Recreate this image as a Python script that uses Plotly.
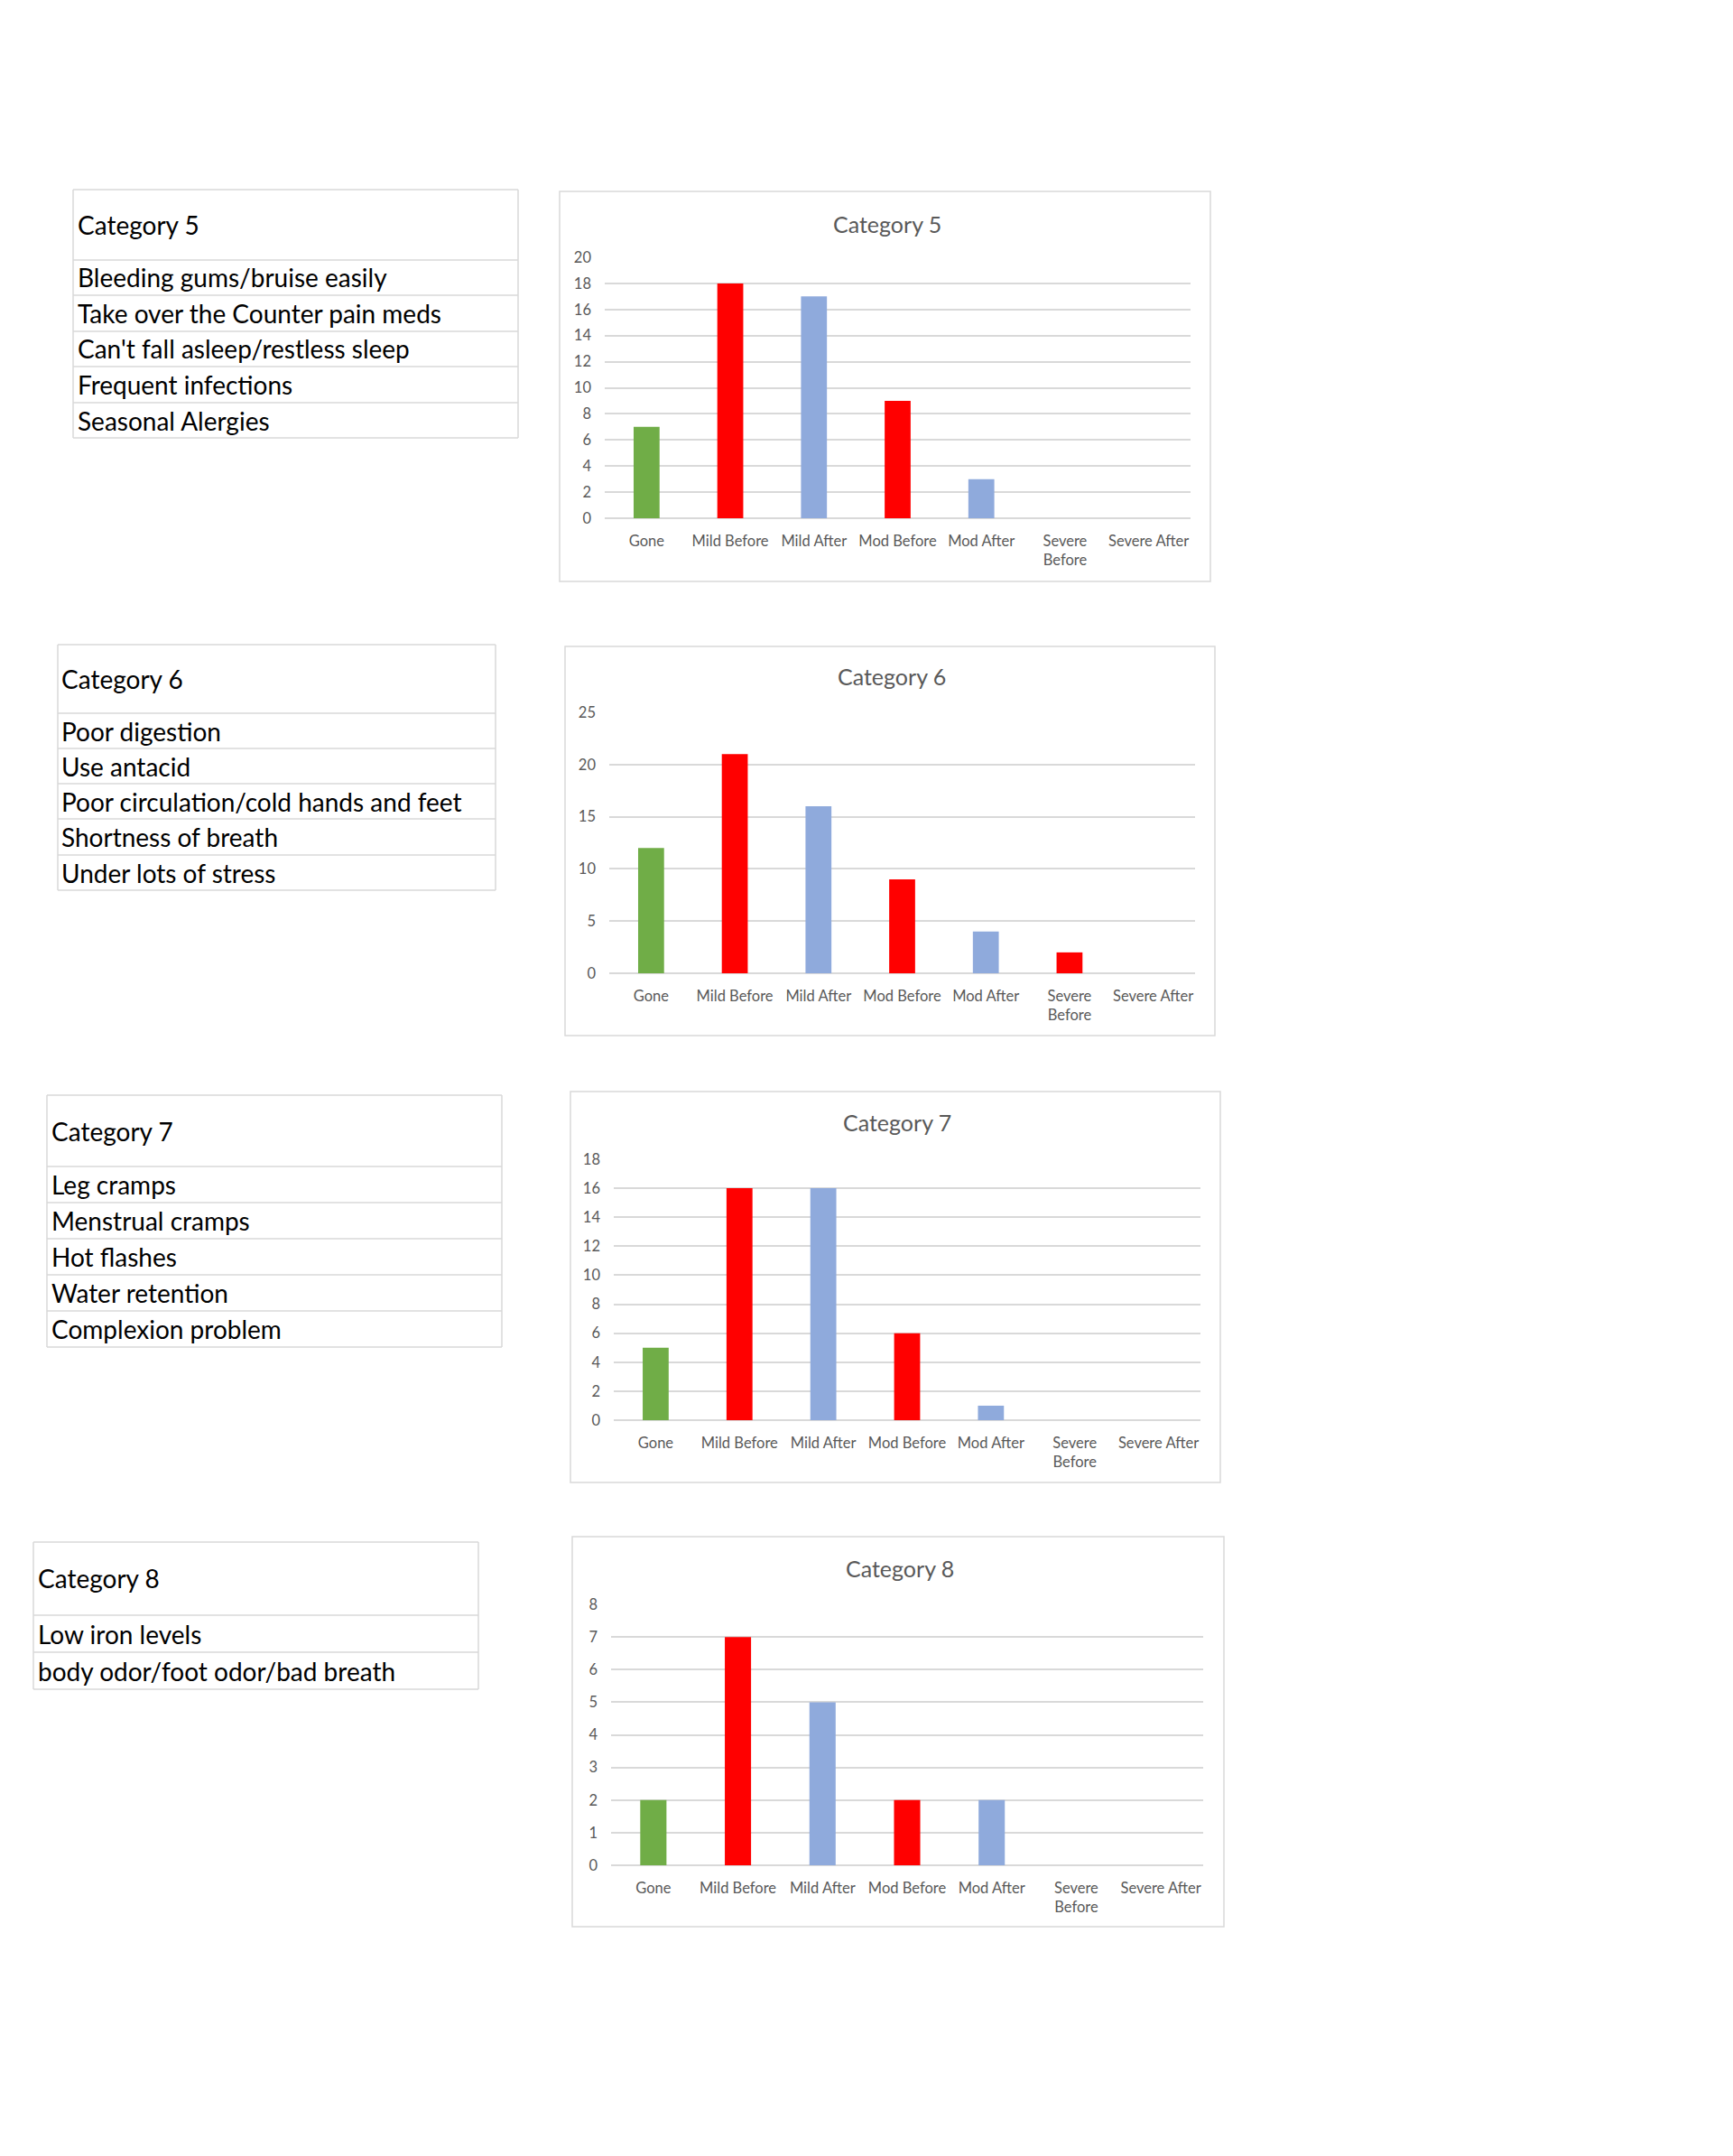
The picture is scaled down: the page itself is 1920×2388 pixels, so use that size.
import plotly.graph_objects as go

W, H = 1920, 2388

# ---------------- data ----------------
categories = ["Gone", "Mild Before", "Mild After", "Mod Before", "Mod After", "Severe Before", "Severe After"]
tick_labels = ["Gone", "Mild Before", "Mild After", "Mod Before", "Mod After", "Severe<br>Before", "Severe After"]

cat5_values = [7, 18, 17, 9, 3, 0, 0]
cat6_values = [12, 21, 16, 9, 4, 2, 0]
cat7_values = [5, 16, 16, 6, 1, 0, 0]
cat8_values = [2, 7, 5, 2, 2, 0, 0]

chart_titles = ["Category 5", "Category 6", "Category 7", "Category 8"]
y_max = [20, 25, 18, 8]
y_step = [2, 5, 2, 1]

cat5_symptoms = ["Bleeding gums/bruise easily", "Take over the Counter pain meds",
                 "Can't fall asleep/restless sleep", "Frequent infections", "Seasonal Alergies"]
cat6_symptoms = ["Poor digestion", "Use antacid", "Poor circulation/cold hands and feet",
                 "Shortness of breath", "Under lots of stress"]
cat7_symptoms = ["Leg cramps", "Menstrual cramps", "Hot flashes", "Water retention", "Complexion problem"]
cat8_symptoms = ["Low iron levels", "body odor/foot odor/bad breath"]

all_values = [cat5_values, cat6_values, cat7_values, cat8_values]
all_symptoms = [cat5_symptoms, cat6_symptoms, cat7_symptoms, cat8_symptoms]

# ---------------- style / layout ----------------
GREEN, RED, BLUE = "#70AD47", "#FF0000", "#8FAADC"
def bar_color(cat):
    if cat == "Gone":
        return GREEN
    return RED if cat.endswith("Before") else BLUE

GRID = "#D9D9D9"
TXT = "#595959"
FONT = "Lato"

chart_geom = [
    dict(box=(620, 212, 1341, 644), plot=(670, 285, 1319, 574), title_y=248),
    dict(box=(626, 716, 1346, 1147), plot=(675, 789, 1324, 1078), title_y=749),
    dict(box=(632, 1209, 1352, 1642), plot=(680, 1284, 1330, 1573), title_y=1243),
    dict(box=(634, 1702, 1356, 2134), plot=(677, 1777, 1333, 2066), title_y=1737),
]
table_geom = [
    dict(x0=81, x1=574, lines=[210, 288, 327, 367, 406, 446, 485], text_x=84),
    dict(x0=64, x1=549, lines=[714, 790, 829, 868, 907, 947, 986], text_x=66),
    dict(x0=52, x1=556, lines=[1213, 1292, 1332, 1372, 1412, 1452, 1492], text_x=55),
    dict(x0=37, x1=530, lines=[1708, 1789, 1830, 1871], text_x=40),
]

def px(x):
    return x / W
def py(y):
    return 1 - y / H

fig = go.Figure()
shapes = []
annotations = []
layout_axes = {}

for i, (vals, g) in enumerate(zip(all_values, chart_geom)):
    n = i + 1
    xa = "x" if n == 1 else f"x{n}"
    ya = "y" if n == 1 else f"y{n}"
    fig.add_trace(go.Bar(
        x=categories, y=vals,
        marker=dict(color=[bar_color(c) for c in categories], line=dict(width=0)),
        xaxis=xa, yaxis=ya, showlegend=False, hoverinfo="x+y",
    ))
    x0, y0, x1, y1 = g["plot"]
    layout_axes[f"xaxis{'' if n == 1 else n}"] = dict(
        domain=[px(x0), px(x1)], anchor=ya, automargin=False,
        tickmode="array", tickvals=categories, ticktext=tick_labels,
        tickfont=dict(family=FONT, size=16.5, color=TXT),
        showgrid=False, zeroline=False, showline=False, ticks="",
        ticklabelstandoff=13, fixedrange=True,
    )
    layout_axes[f"yaxis{'' if n == 1 else n}"] = dict(
        domain=[py(y1), py(y0)], anchor=xa, automargin=False,
        range=[0, y_max[i]], dtick=y_step[i], tick0=0,
        showgrid=True, gridcolor=GRID, gridwidth=1.5,
        zeroline=True, zerolinecolor=GRID, zerolinewidth=1.5,
        showline=False, ticks="",
        tickfont=dict(family=FONT, size=16.5, color=TXT),
        ticklabelstandoff=14, fixedrange=True,
    )
    bx0, by0, bx1, by1 = g["box"]
    shapes.append(dict(type="rect", xref="paper", yref="paper",
                       x0=px(bx0), x1=px(bx1), y0=py(by1), y1=py(by0),
                       line=dict(color=GRID, width=1.5), fillcolor="rgba(0,0,0,0)", layer="below"))
    annotations.append(dict(text=chart_titles[i], xref="paper", yref="paper",
                            x=px((bx0 + bx1) / 2 + 2), y=py(g["title_y"]),
                            xanchor="center", yanchor="middle", showarrow=False,
                            font=dict(family=FONT, size=25, color=TXT)))

# tables
TLINE = "#D9D9D9"
for i, (syms, t) in enumerate(zip(all_symptoms, table_geom)):
    lines = t["lines"]
    for ly in lines:
        shapes.append(dict(type="line", xref="paper", yref="paper",
                           x0=px(t["x0"]), x1=px(t["x1"]), y0=py(ly), y1=py(ly),
                           line=dict(color=TLINE, width=1.5)))
    for lx in (t["x0"], t["x1"]):
        shapes.append(dict(type="line", xref="paper", yref="paper",
                           x0=px(lx), x1=px(lx), y0=py(lines[0]), y1=py(lines[-1]),
                           line=dict(color=TLINE, width=1.5)))
    rows = [chart_titles[i]] + syms
    for r, label in enumerate(rows):
        yc = (lines[r] + lines[r + 1]) / 2
        annotations.append(dict(text=label, xref="paper", yref="paper",
                                x=px(t["text_x"]), y=py(yc),
                                xanchor="left", yanchor="middle", showarrow=False,
                                font=dict(family=FONT, size=28, color="#000000")))

fig.update_layout(
    width=W, height=H,
    margin=dict(l=0, r=0, t=0, b=0, pad=0, autoexpand=False),
    paper_bgcolor="white", plot_bgcolor="white",
    bargap=0.69,
    shapes=shapes, annotations=annotations,
    **layout_axes,
)

fig.write_html("out.html", config={"displayModeBar": False})
